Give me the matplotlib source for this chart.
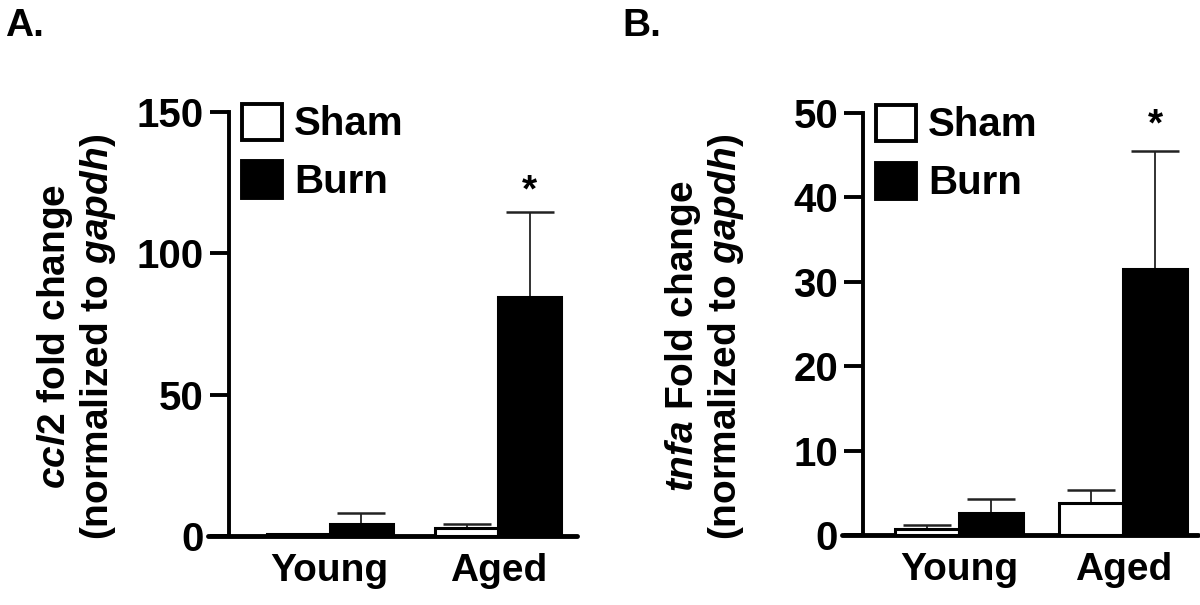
import numpy as np
import matplotlib
matplotlib.use('Agg')
import matplotlib.pyplot as plt
from matplotlib.patches import Patch

plt.rcParams['font.family'] = 'Liberation Sans'
plt.rcParams['font.weight'] = 'bold'
plt.rcParams['axes.labelweight'] = 'bold'
plt.rcParams['mathtext.fontset'] = 'custom'
plt.rcParams['mathtext.it'] = 'Liberation Sans:style=italic:weight=700'
plt.rcParams['mathtext.rm'] = 'Liberation Sans:weight=700'

groups = ['Young', 'Aged']
legend_labels = ['Sham', 'Burn']

# panel A: ccl2
ccl2_sham = [0.7, 2.8]
ccl2_sham_err = [0.0, 1.4]
ccl2_burn = [4.2, 84.5]
ccl2_burn_err = [3.8, 30.0]

# panel B: tnfa
tnfa_sham = [0.7, 3.8]
tnfa_sham_err = [0.5, 1.5]
tnfa_burn = [2.6, 31.5]
tnfa_burn_err = [1.7, 14.0]

FS = 28


def draw_panel(ax, sham, sham_err, burn, burn_err, ymax, yticks, ylabel,
               group_x, xlim, spine_x, star_y, lab_x):
    gx = np.array(group_x)
    ax.bar(gx, sham, width=1.0, color='white', edgecolor='black', linewidth=2.2, zorder=3)
    ax.bar(gx + 1, burn, width=1.0, color='black', edgecolor='black', linewidth=2.2, zorder=3)
    ax.errorbar(gx, sham, yerr=[np.zeros(2), sham_err], fmt='none', ecolor='#222222',
                elinewidth=1.3, capsize=17, capthick=1.8, zorder=2)
    ax.errorbar(gx + 1, burn, yerr=[np.zeros(2), burn_err], fmt='none', ecolor='#222222',
                elinewidth=1.3, capsize=17, capthick=1.8, zorder=2)
    ax.text(gx[1] + 1, star_y, '*', ha='center', va='center', fontsize=FS, fontweight='bold')

    ax.set_xlim(*xlim)
    ax.set_ylim(0, ymax)
    ax.set_yticks(yticks)
    ax.set_xticks(gx + 0.5)
    ax.set_xticklabels(groups)
    ax.tick_params(axis='x', length=0, pad=12, labelsize=FS)
    ax.tick_params(axis='y', length=14, width=2.8, pad=4, labelsize=FS + 1)
    for s in ['top', 'right']:
        ax.spines[s].set_visible(False)
    ax.spines['left'].set_position(('data', spine_x))
    ax.spines['left'].set_linewidth(2.8)
    ax.spines['bottom'].set_linewidth(3.5)
    ax.spines['bottom'].set_capstyle('round')
    ax.set_ylabel(ylabel, fontsize=FS, fontweight='bold', linespacing=1.1)
    ax.yaxis.set_label_coords(lab_x, 0.47)

    handles = [Patch(facecolor='white', edgecolor='black', linewidth=2.8),
               Patch(facecolor='black', edgecolor='black', linewidth=2.8)]
    ax.legend(handles, legend_labels, loc='upper left',
              bbox_to_anchor=((spine_x - xlim[0]) / (xlim[1] - xlim[0]) + 0.035, 1.02),
              frameon=False, fontsize=FS + 1, handlelength=1.0, handleheight=1.0,
              handletextpad=0.3, labelspacing=0.45, borderpad=0, borderaxespad=0)


fig = plt.figure(figsize=(12, 6.05), dpi=100)
axA = fig.add_axes([208 / 1200, 69 / 605, 369 / 1200, 424 / 605])
axB = fig.add_axes([842 / 1200, 70 / 605, 356 / 1200, 422 / 605])

draw_panel(axA, ccl2_sham, ccl2_sham_err, ccl2_burn, ccl2_burn_err, 150, [0, 50, 100, 150],
           '$\\mathit{ccl2}$ fold change\n(normalized to $\\mathit{gapdh}$)',
           [0, 2.68], (-1.43, 4.43), -1.1, 122, -0.245)
draw_panel(axB, tnfa_sham, tnfa_sham_err, tnfa_burn, tnfa_burn_err, 50, [0, 10, 20, 30, 40, 50],
           '$\\mathit{tnfa}$ Fold change\n(normalized to $\\mathit{gapdh}$)',
           [0, 2.57], (-1.33, 4.24), -1.0, 48.5, -0.27)

fig.text(5 / 1200, 1 - 8 / 605, 'A.', fontsize=FS, fontweight='bold', va='top', ha='left')
fig.text(622 / 1200, 1 - 8 / 605, 'B.', fontsize=FS, fontweight='bold', va='top', ha='left')

fig.savefig('out.png', dpi=100)
